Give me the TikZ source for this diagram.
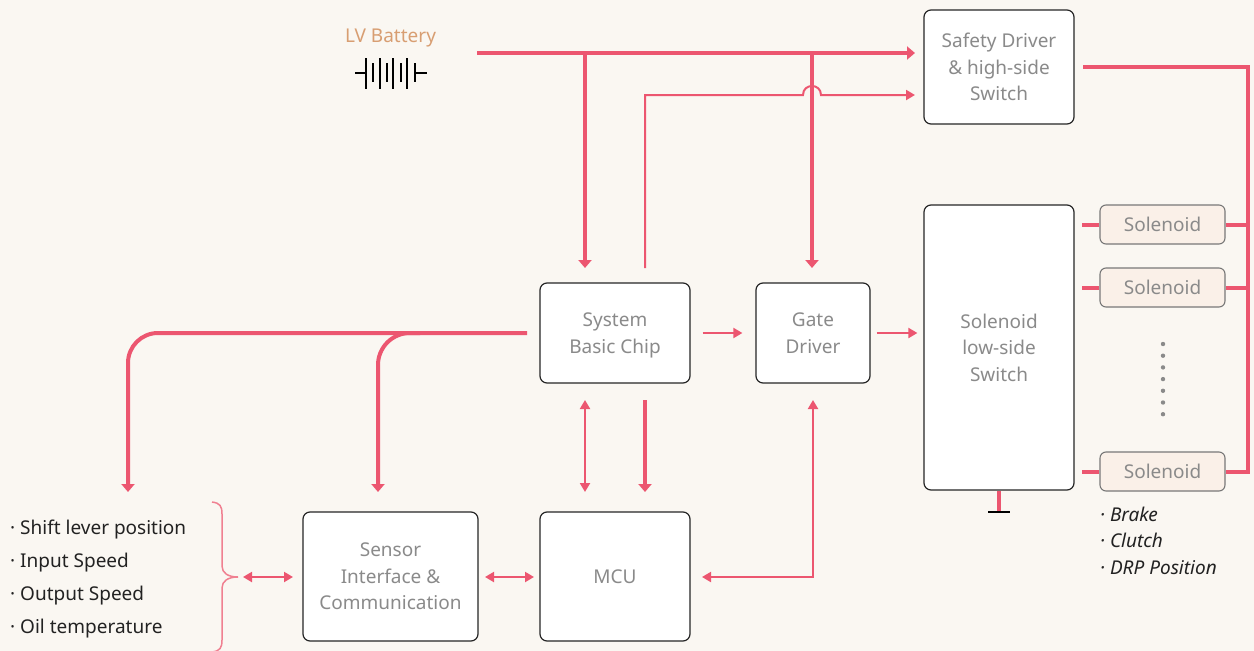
\documentclass[tikz,border=0pt]{standalone}
\usepackage{fontspec}
\setmainfont{Noto Sans}
\usetikzlibrary{arrows.meta}
\definecolor{bgc}{RGB}{250,247,242}
\definecolor{pk}{RGB}{236,86,112}
\definecolor{pkl}{RGB}{240,128,145}
\definecolor{txg}{RGB}{138,138,138}
\definecolor{batc}{RGB}{216,158,114}
\definecolor{solf}{RGB}{250,240,232}
\definecolor{solb}{RGB}{120,120,120}
\definecolor{txk}{RGB}{34,34,34}
\begin{document}
\begin{tikzpicture}[x=1pt,y=-1pt,
  box/.style={draw=black!85,line width=1.2pt,fill=white,rounded corners=7pt,inner sep=0pt,align=center,text=txg,font=\fontsize{19}{26.5}\selectfont},
  solbox/.style={draw=solb,line width=1.1pt,fill=solf,rounded corners=6pt,minimum width=125pt,minimum height=39pt,inner sep=0pt,text=txg,font=\fontsize{19}{23}\selectfont},
  pkthick/.style={draw=pk,line width=4pt},
  pkthin/.style={draw=pk,line width=2pt},
  bigtip/.style={-{Triangle[length=8pt,width=13pt]}},
  smalltip/.style={-{Triangle[length=9pt,width=10pt]}},
  dbltip/.style={{Triangle[length=9pt,width=10pt]}-{Triangle[length=9pt,width=10pt]}},
  listt/.style={anchor=base west,inner sep=0pt,text=txk,font=\fontsize{19}{23}\selectfont},
  rlist/.style={anchor=base west,inner sep=0pt,text=txk,font=\fontsize{19}{23}\selectfont\itshape},
  batline/.style={draw=black,line width=1.6pt}
]
\fill[bgc] (0,0) rectangle (1254,651);
\useasboundingbox (0,0) rectangle (1254,651);

% boxes
\node[box,minimum width=150pt,minimum height=100pt] (sbc) at (615,333) {System\\\raisebox{0pt}[\height][0pt]{Basic Chip}};
\node[box,minimum width=114pt,minimum height=100pt] (gd) at (813,333) {Gate\\Driver};
\node[box,minimum width=150pt,minimum height=114pt] (safe) at (999,67) {Safety Driver\\\& high-side\\Switch};
\node[box,minimum width=150pt,minimum height=285pt] (low) at (999,347.5) {Solenoid\\low-side\\Switch};
\node[box,minimum width=150pt,minimum height=129pt] (mcu) at (615,576.5) {MCU};
\node[box,minimum width=175pt,minimum height=129pt] (sens) at (390.5,576.5) {Sensor\\Interface \&\\Communication};
\node[solbox] (s1) at (1162.5,224.5) {Solenoid};
\node[solbox] (s2) at (1162.5,287.5) {Solenoid};
\node[solbox] (s3) at (1162.5,471.5) {Solenoid};

% battery
\node[anchor=base,inner sep=0pt,text=batc,font=\fontsize{19}{23}\selectfont] (lvb) at (390.5,42) {LV Battery};
\draw[batline] (355,73) -- (366,73);
\foreach \xx in {366,380,393,407} {\draw[batline] (\xx,58) -- (\xx,89);}
\foreach \xx in {373,387,401,415} {\draw[batline] (\xx,63) -- (\xx,82);}
\draw[batline] (415,73) -- (427,73);

% coordinates
\coordinate (busL) at (477,53);
\coordinate (busA) at (585,53);
\coordinate (busB) at (812,53);
\coordinate (busEnd) at (915,53);
\coordinate (sbcIn) at (585,268);
\coordinate (gdIn) at (812,268);
\coordinate (thS) at (645,268);
\coordinate (thC) at (645,95);
\coordinate (hopL) at (803,95);
\coordinate (hopR) at (821,95);
\coordinate (thEnd) at (915,95);

% top bus
\draw[pkthick,bigtip] (busL) -- (busEnd);
\draw[pkthick,bigtip] (busA) -- (sbcIn);
\draw[pkthick,bigtip] (busB) -- (gdIn);
% thin line with hop
\draw[pkthin,smalltip] (thS) -- (thC) -- (hopL) .. controls (803,83) and (821,83) .. (hopR) -- (thEnd);

% horizontal small arrows
\draw[pkthin,smalltip,shorten <=12pt,shorten >=13pt] (sbc.east) -- (gd.west);
\draw[pkthin,smalltip,shorten <=6pt,shorten >=6pt] (gd.east) -- (gd.east -| low.west);

% below SBC
\coordinate (d1a) at (585,400);
\coordinate (d1b) at (585,492);
\coordinate (d2a) at (645,400);
\coordinate (d2b) at (645,492);
\draw[pkthin,dbltip] (d1a) -- (d1b);
\draw[pkthick,bigtip] (d2a) -- (d2b);

% MCU <-> GD
\coordinate (mg1) at (702,577);
\coordinate (mg2) at (813,577);
\coordinate (mg3) at (813,400);
\draw[pkthin,dbltip] (mg1) -- (mg2) -- (mg3);

% sensor <-> MCU
\coordinate (sm1) at (485,577);
\coordinate (sm2) at (534,577);
\draw[pkthin,dbltip] (sm1) -- (sm2);
% brace <-> sensor
\coordinate (bs1) at (243,577);
\coordinate (bs2) at (293,577);
\draw[pkthin,dbltip] (bs1) -- (bs2);

% left thick branches
\coordinate (lh) at (527,333);
\coordinate (lc1) at (128,333);
\coordinate (ld1) at (128,492);
\coordinate (lm) at (420,333);
\coordinate (lc2) at (378,333);
\coordinate (ld2) at (378,492);
\draw[pkthick,bigtip,rounded corners=30pt] (lh) -- (lc1) -- (ld1);
\draw[pkthick,bigtip,rounded corners=32pt] (lm) -- (lc2) -- (ld2);

% brace
\draw[pkl,line width=1.5pt] (212,502) .. controls (220,503) and (222,506) .. (222,514)
  -- (222,566) .. controls (222,573) and (228,577) .. (238,577)
  .. controls (228,577) and (222,581) .. (222,588)
  -- (222,640) .. controls (222,648) and (220,651) .. (212,652);

% right bus
\coordinate (rb0) at (1083,67);
\coordinate (rb1) at (1248,67);
\coordinate (rb2) at (1248,471.5);
\draw[pkthick,line join=miter] (rb0) -- (rb1) -- (rb2) -- (s3.east);
\draw[pkthick] (s1.east) -- (s1.east -| rb1);
\draw[pkthick] (s2.east) -- (s2.east -| rb1);
\draw[pkthick] (s1.west) -- ++(-17,0);
\draw[pkthick] (s2.west) -- ++(-17,0);
\draw[pkthick] (s3.west) -- ++(-17,0);

% ground
\coordinate (gnd) at (999,512);
\draw[pkthick] (low.south) -- (gnd);
\draw[draw=black,line width=1.4pt] (988,512) -- (1010,512);

% dots
\foreach \k in {0,...,6} {\fill[txg] (1163,344+11.7*\k) circle (2.2pt);}

% left list
\node[listt] (l1) at (10,534) {· Shift lever position};
\node[listt] (l2) at (10,567) {· Input Speed};
\node[listt] (l3) at (10,600) {· Output Speed};
\node[listt] (l4) at (10,633) {· Oil temperature};

% right list
\node[rlist] (r1) at (1100,521) {· Brake};
\node[rlist] (r2) at (1100,547) {· Clutch};
\node[rlist] (r3) at (1100,574) {· DRP Position};
\end{tikzpicture}
\end{document}
